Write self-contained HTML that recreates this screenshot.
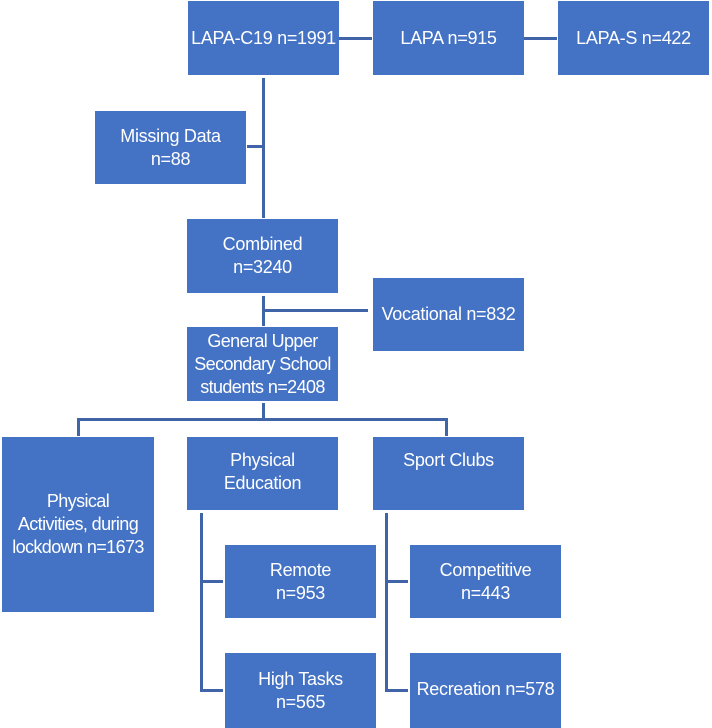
<!DOCTYPE html>
<html><head><style>
body{margin:0;width:712px;height:728px;background:#fff;position:relative;overflow:hidden;font-family:"Liberation Sans",sans-serif}
.b{position:absolute;background:#4472C4;color:#fff;display:flex;align-items:center;justify-content:center;text-align:center;font-size:18px;line-height:23px;letter-spacing:-0.3px;white-space:nowrap}
.l{position:absolute;background:#3F64A8}
</style></head><body>
<div class="l" style="left:339px;top:37px;width:33px;height:3px"></div>
<div class="l" style="left:524px;top:37px;width:33px;height:3px"></div>
<div class="l" style="left:262px;top:78px;width:3px;height:140px"></div>
<div class="l" style="left:247px;top:145px;width:16px;height:3px"></div>
<div class="l" style="left:262px;top:296px;width:3px;height:30px"></div>
<div class="l" style="left:265px;top:309px;width:103px;height:3px"></div>
<div class="l" style="left:262px;top:403px;width:3px;height:16px"></div>
<div class="l" style="left:77px;top:418px;width:371px;height:3px"></div>
<div class="l" style="left:77px;top:418px;width:3px;height:18px"></div>
<div class="l" style="left:445px;top:418px;width:3px;height:18px"></div>
<div class="l" style="left:200px;top:513px;width:3px;height:179px"></div>
<div class="l" style="left:200px;top:580px;width:23px;height:3px"></div>
<div class="l" style="left:200px;top:689px;width:23px;height:3px"></div>
<div class="l" style="left:385px;top:513px;width:3px;height:179px"></div>
<div class="l" style="left:385px;top:580px;width:23px;height:3px"></div>
<div class="l" style="left:385px;top:689px;width:23px;height:3px"></div>

<div class="b" style="left:188px;top:1px;width:151px;height:74px">LAPA-C19 n=1991</div>
<div class="b" style="left:373px;top:1px;width:151px;height:74px">LAPA n=915</div>
<div class="b" style="left:558px;top:1px;width:151px;height:74px">LAPA-S n=422</div>
<div class="b" style="left:95px;top:111px;width:151px;height:73px">Missing Data<br>n=88</div>
<div class="b" style="left:187px;top:219px;width:151px;height:74px">Combined<br>n=3240</div>
<div class="b" style="left:373px;top:278px;width:151px;height:73px">Vocational n=832</div>
<div class="b" style="left:187px;top:327px;width:151px;height:74px;letter-spacing:-0.6px">General Upper<br>Secondary School<br>students n=2408</div>
<div class="b" style="left:2px;top:437px;width:152px;height:175px;letter-spacing:-0.6px">Physical<br>Activities, during<br>lockdown n=1673</div>
<div class="b" style="left:187px;top:437px;width:151px;height:73px;align-items:flex-start"><div style="margin-top:12px">Physical<br>Education</div></div>
<div class="b" style="left:373px;top:437px;width:151px;height:73px;align-items:flex-start"><div style="margin-top:12px">Sport Clubs</div></div>
<div class="b" style="left:225px;top:545px;width:151px;height:73px">Remote<br>n=953</div>
<div class="b" style="left:410px;top:545px;width:151px;height:73px">Competitive<br>n=443</div>
<div class="b" style="left:225px;top:653px;width:151px;height:75px">High Tasks<br>n=565</div>
<div class="b" style="left:410px;top:653px;width:151px;height:75px;align-items:flex-start"><div style="margin-top:25px">Recreation n=578</div></div>
</body></html>
